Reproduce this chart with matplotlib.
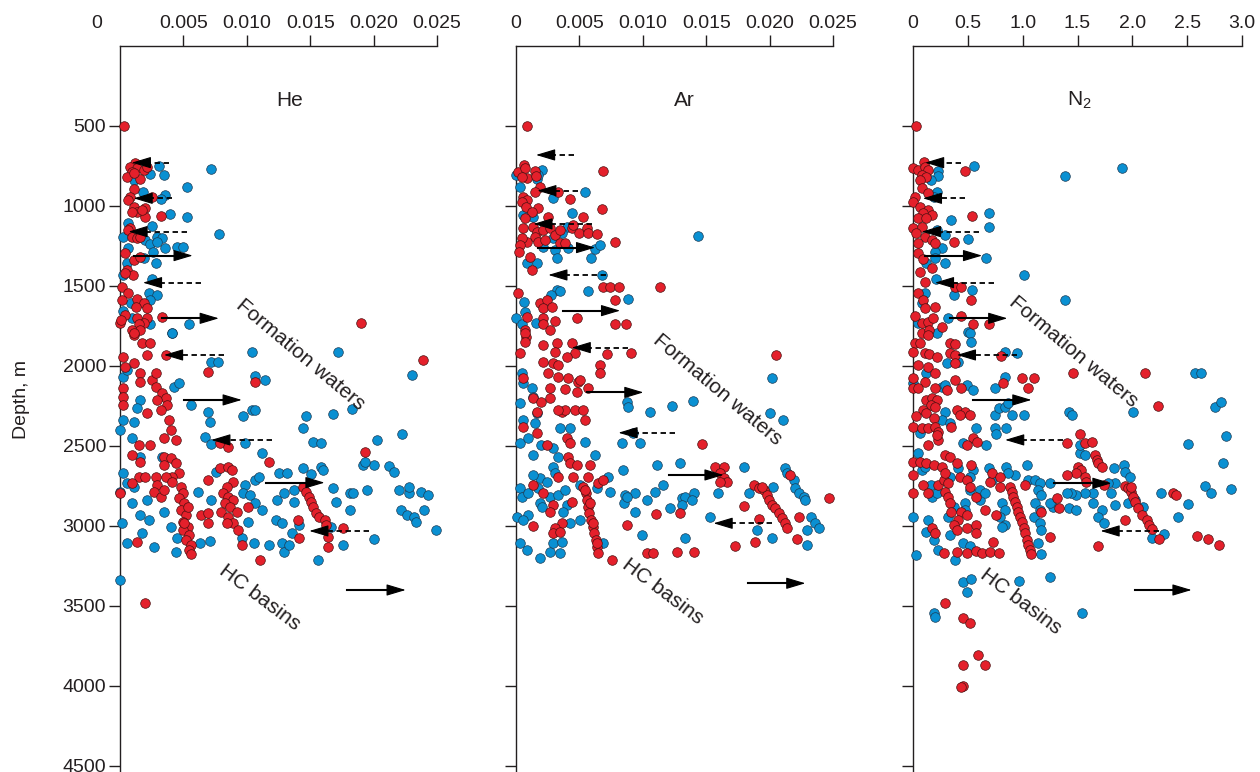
import numpy as np
import matplotlib
matplotlib.use("Agg")
import matplotlib.pyplot as plt
from matplotlib.patches import FancyArrowPatch

plt.rcParams['font.family'] = ['Liberation Sans', 'DejaVu Sans']
plt.rcParams['mathtext.default'] = 'regular'

# ---------------- DATA (x value, depth m) ----------------
# He and Ar values in units of 1e-3
he_red = [
(0.35,500),(1.2,729),(0.8,754),(1.33,765),(0.93,785),(1.87,775),(2.13,754),(0.53,821),(1.6,833),(1.07,796),
(1.07,894),(0.75,942),(2.53,942),(0.67,962),(1.07,1004),(2.0,1014),(1.33,1035),(0.93,1035),(2.0,1071),(3.2,1062),(1.73,1025),
(0.8,1140),(0.67,1150),(0.93,1192),(1.33,1202),(1.6,1192),(0.4,1296),(1.07,1337),(1.6,1317),(0.53,1400),(1.01,1431),(0.4,1421),
(0.13,1504),(0.67,1546),(0.13,1587),(1.33,1583),(1.87,1608),(1.28,1633),(2.13,1640),(0.4,1681),(0.0,1733),(1.33,1702),(2.13,1702),
(1.87,1733),(1.47,1740),(0.93,1775),(1.6,1775),(1.07,1806),(3.33,1692),(0.05,1712),(19.0,1729),
(1.07,1796),(1.73,1858),(2.4,1858),(2.13,1931),(0.27,1942),(1.07,1983),(0.4,2004),(1.6,2046),(2.53,2088),(2.8,2046),(3.6,1931),
(0.27,2140),(1.6,2098),(2.8,2129),(3.33,2171),(3.6,2202),(3.73,2244),(2.93,2213),(3.2,2275),(0.27,2192),(0.27,2244),(3.87,2337),
(4.0,2400),(3.47,2452),(4.4,2462),(2.4,2494),(1.47,2494),(0.93,2556),(1.6,2598),(6.93,2035),(10.67,2098),(23.9,1962),(7.87,2483),
(8.53,2504),(2.13,2296),
(4.8,2754),(4.93,2796),(4.67,2827),(5.07,2858),(4.8,2900),(5.2,2931),(4.93,2973),(5.33,3004),(4.93,3025),(5.47,3056),(5.2,3087),
(5.6,3119),(5.47,3150),(5.6,3175),(5.07,2983),(5.33,2879),
(3.47,2567),(4.0,2577),(4.4,2608),(4.67,2671),(4.13,2692),(3.47,2619),(3.6,2692),(2.8,2692),(2.93,2744),(2.67,2785),(1.47,2692),
(2.0,2692),(0.93,2733),(0.0,2796),(3.2,2817),(3.47,2775),(4.13,2723),(6.93,2712),(6.4,2931),(6.93,2921),(6.93,2983),(1.33,3098),
(2.0,3483),
(7.87,2639),(8.53,2629),(8.8,2650),(8.93,2723),(8.4,2754),(8.13,2796),(8.53,2817),(8.93,2838),(8.27,2858),(8.67,2879),(7.99,2910),
(9.2,2910),(8.53,2942),(8.93,2983),(8.4,2983),(9.33,3025),(9.6,3119),(10.13,2879),(11.07,3212),(11.73,2598),
(14.4,2754),(14.67,2785),(14.93,2817),(15.07,2848),(15.2,2879),(15.47,2921),(15.73,2942),(16.13,2962),(16.27,2994),(16.4,3067),
(16.4,3129),(14.0,2962),(14.08,3077),(17.6,3014),(19.33,2535),
]
he_blue = [
(3.07,748),(2.4,800),(3.47,806),(1.07,837),(7.2,769),(5.28,879),(1.81,910),(3.52,931),(3.25,958),(3.95,1050),(5.28,1071),(1.2,1025),
(0.67,1104),(2.53,1125),(0.27,1192),(2.0,1212),(2.4,1237),(2.93,1192),(3.33,1202),(2.93,1223),(3.52,1265),(4.53,1258),(4.93,1258),
(2.61,1285),(1.87,1327),(2.8,1354),(0.67,1265),(0.53,1358),(0.27,1431),(7.79,1177),(2.53,1458),(2.27,1542),(2.88,1556),(2.4,1587),
(0.85,1604),(0.27,1654),(0.93,1702),(2.4,1737),(5.47,1737),(4.08,1792),
(4.13,1796),(0.27,2067),(0.53,2025),(7.2,1973),(7.73,1973),(10.4,1910),(17.2,1910),(10.67,2062),(11.47,2088),(4.27,2129),(4.67,2108),
(1.6,2212),(1.33,2265),(5.6,2244),(6.93,2285),(7.07,2348),(10.4,2275),(10.67,2275),(9.73,2312),(14.67,2312),(16.8,2300),(18.27,2271),
(14.4,2390),(23.0,2056),(0.27,2337),(1.07,2348),(0.0,2400),(0.93,2452),(6.67,2446),(7.2,2490),(9.87,2483),(15.2,2473),(15.87,2479),
(20.27,2462),(22.27,2427),(1.6,2567),(3.33,2571),(11.2,2542),
(0.0,2785),(0.27,2671),(0.53,2733),(1.07,2754),(0.93,2858),(1.6,2931),(2.27,2962),(1.73,3046),(0.53,3108),(2.67,3129),(0.13,2983),
(0.0,3337),(2.13,2838),(3.47,2910),(4.0,3004),(4.4,3160),(4.53,3077),(6.27,3108),(7.07,3092),(6.13,2785),(7.2,2838),(7.6,2660),
(9.87,2744),(10.67,2712),(10.93,2692),(9.73,2796),(10.27,2806),(10.67,2858),(11.2,2900),(10.13,2973),(9.6,3077),(10.53,3108),
(11.73,3119),(12.4,2838),(12.93,2796),(12.27,2962),(12.8,2983),(13.6,3046),(12.8,3108),(12.93,3160),(13.33,3119),(12.53,2671),
(13.2,2671),(13.73,2775),(13.73,2848),(14.4,2639),(15.07,2675),(15.87,2629),(16.0,2650),(16.8,2765),(17.07,2848),(16.67,3004),
(17.6,3119),(15.6,3212),(18.13,2796),(18.35,2792),(18.13,2900),(19.47,2775),(19.2,2619),(20.0,2619),(19.33,2598),(21.2,2625),
(21.6,2660),(22.0,2775),(22.8,2796),(22.8,2758),(23.73,2785),(24.27,2806),(22.13,2900),(22.67,2931),(23.2,2942),(23.33,2973),
(24.0,2900),(24.9,3025),(20.0,3083),(14.13,2994),
]
ar_red = [
(0.84,498),(0.63,744),(0.18,785),(0.71,765),(0.84,827),(1.5,779),(1.58,812),(0.45,817),(6.84,781),(1.89,883),(1.5,910),(0.58,942),
(0.84,962),(0.45,973),(3.34,910),(4.26,958),(0.79,1004),(1.76,1014),(1.24,1035),(6.76,1021),(0.71,1077),(0.58,1140),(1.37,1129),
(1.63,1160),(2.16,1150),(2.55,1067),(2.68,1140),(3.08,1181),(3.47,1150),(4.39,1140),(4.53,1119),(5.0,1171),(5.26,1067),(5.58,1140),
(5.71,1171),(6.42,1175),(1.5,1192),(0.84,1223),(0.45,1202),(0.32,1244),(1.76,1223),(2.29,1212),(3.47,1233),(3.87,1233),(7.82,1223),
(0.26,1285),(1.1,1317),(1.24,1400),(0.18,1546),(6.89,1504),(7.42,1504),(8.16,1504),(11.32,1504),(1.89,1608),(2.42,1587),(2.16,1640),
(2.82,1633),(0.84,1692),(2.11,1702),(3.08,1717),(7.82,1587),(2.16,1737),(2.68,1775),(4.79,1702),(7.82,1737),(8.68,1737),(0.71,1775),
(0.79,1817),
(0.71,1796),(0.71,1848),(0.32,1921),(2.16,1869),(3.21,1858),(4.39,1858),(3.08,1910),(4.66,1921),(4.0,1942),(2.16,1973),(2.95,1983),
(3.34,1994),(2.55,2046),(3.34,2067),(4.13,2077),(4.92,2098),(5.05,2088),(0.58,2077),(2.68,2140),(3.87,2146),(4.79,2160),(5.71,2140),
(6.63,1994),(6.63,2046),(7.21,1925),(9.05,1917),(1.37,2202),(2.0,2223),(2.68,2202),(1.63,2285),(3.61,2285),(3.87,2275),(3.34,2275),
(4.66,2275),(5.32,2275),(5.45,2337),(0.58,2379),(1.63,2421),(4.0,2452),(4.26,2483),(2.42,2494),(4.13,2567),(4.26,2608),(4.79,2619),
(5.84,2619),(4.53,2692),(3.34,2692),(5.71,2692),(1.37,2744),(2.16,2796),(2.95,2869),(2.68,2910),(3.61,2983),(3.08,3014),(2.95,3046),
(3.47,3035),(1.37,3000),(4.39,2848),(6.5,2733),(6.89,2712),(14.63,2487),(8.74,2994),(7.55,3212),(10.32,3171),(10.84,3171),
(12.68,3160),(14.05,3160),(11.05,2927),(12.95,2917),(18.0,2875),(20.53,1931),(19.13,2958),(17.29,3125),(18.87,3098),(22.16,3083),
(22.3,2942),(21.63,2681),(24.66,2823),
(5.32,2754),(5.53,2796),(5.63,2838),(5.71,2879),(5.79,2921),(5.89,2962),(6.05,3004),(6.16,3046),(6.32,3087),(6.42,3129),(6.5,3171),
(5.45,2775),(5.84,2858),(6.11,2983),(6.37,3108),
(15.71,2629),(16.37,2633),(16.11,2671),(16.37,2702),(16.63,2723),(16.11,2723),
(18.74,2744),(19.13,2765),(19.53,2775),(19.79,2806),(19.92,2838),(20.18,2869),(20.45,2890),(20.71,2921),(20.97,2952),(21.24,2983),
(21.37,3014),(19.4,2754),
]
ar_blue = [
(0.0,806),(1.63,833),(2.03,775),(1.76,806),(0.32,879),(5.45,910),(2.95,952),(1.37,1067),(0.58,1056),(4.39,1046),(4.0,1129),(3.61,1171),
(2.95,1202),(2.16,1254),(3.08,1275),(4.13,1265),(3.21,1327),(5.89,1327),(6.24,1269),(6.63,1244),(1.63,1354),(0.84,1358),(6.76,1431),
(14.34,1187),(3.21,1525),(3.47,1529),(2.74,1556),(5.71,1529),(8.82,1583),(0.63,1598),(0.71,1660),(0.0,1702),(0.45,1737),(1.58,1733),
(0.45,2046),(0.58,2108),(1.24,2140),(1.37,2192),(0.32,2233),(0.58,2337),(1.63,2296),(1.5,2354),(0.32,2483),(0.97,2452),(1.37,2556),
(2.0,2494),(2.95,2515),(3.34,2567),(3.47,2389),(4.26,2389),(5.45,2473),(6.24,2556),(2.95,2629),(3.08,2671),(1.89,2702),(1.37,2681),
(2.42,2723),(0.32,2765),(0.45,2817),(0.97,2796),(1.76,2765),(1.89,2858),(2.68,2817),(3.34,2806),(3.87,2775),(4.0,2869),(2.03,2879),
(0.97,2931),(0.05,2942),(0.58,2962),(3.74,2910),(4.26,2983),(5.05,2962),(0.32,3108),(0.84,3150),(1.89,3202),(2.68,3160),(3.47,3171),
(2.95,3108),(3.61,3098),(6.89,3108),(5.05,2744),(6.37,2765),(7.29,2692),(7.42,2785),(8.47,2650),(8.6,2806),(9.39,2796),(9.39,2910),
(9.92,3056),(10.32,2837),(10.97,2785),(11.11,2619),(11.63,2744),(12.16,2890),(13.08,2827),(13.34,2817),(13.08,2869),(14.0,2796),
(13.87,2837),(12.95,2608),(13.34,3077),(15.32,2942),(15.97,2796),(17.95,2629),(18.34,2792),(20.26,2754),(21.24,2640),(21.37,2671),
(21.9,2712),(22.03,2765),(22.3,2796),(22.7,2817),(22.8,2838),(23.3,2942),(23.6,2983),(23.87,3014),(22.95,3025),(22.95,3119),
(19.0,3025),(20.18,3077),(20.0,2292),(21.05,2337),(20.18,2073),(13.95,2219),(12.34,2250),(10.53,2285),(8.74,2223),(8.87,2254),
(9.26,2421),(8.34,2483),(9.79,2483),(8.53,2858),(8.74,2817),
]
n2_red = [
(0.03,498),(0.1,723),(0.0,764),(0.05,775),(0.11,754),(0.14,775),(0.08,806),(0.12,817),(0.06,837),(0.47,779),(0.08,890),(0.14,921),
(0.02,942),(0.0,973),(0.06,1004),(0.14,1025),(0.09,1046),(0.17,1056),(0.05,1077),(0.12,1077),(0.0,1140),(0.08,1129),(0.03,1171),
(0.11,1192),(0.05,1233),(0.17,1212),(0.2,1229),(0.37,1223),(0.54,1062),(0.05,1296),(0.09,1333),(0.17,1390),(0.06,1410),(0.11,1473),
(0.05,1546),(0.09,1587),(0.11,1640),(0.2,1629),(0.38,1504),(0.44,1504),(0.53,1587),(0.02,1687),(0.08,1733),(0.14,1723),(0.18,1702),
(0.26,1754),(0.08,1796),(0.44,1687),(0.55,1737),(0.69,1737),(0.15,1775),
(0.14,1806),(0.02,1858),(0.06,1854),(0.34,1858),(0.38,1862),(0.0,1910),(0.11,1921),(0.15,1925),(0.22,1942),(0.34,1921),(0.38,1931),
(0.05,1994),(0.14,2004),(0.2,2046),(0.38,1983),(0.38,2088),(0.0,2077),(0.11,2098),(0.0,2140),(0.05,2140),(0.2,2140),(0.31,2150),
(0.44,2140),(0.12,2212),(0.17,2202),(0.22,2212),(0.16,2244),(0.2,2254),(0.09,2275),(0.12,2296),(0.19,2327),(0.03,2312),(0.0,2379),
(0.08,2389),(0.14,2389),(0.2,2379),(0.23,2410),(0.23,2462),(0.22,2431),(0.35,2379),(0.4,2275),(0.47,2285),(0.52,2306),(0.43,2306),
(0.55,2452),(0.58,2473),(0.49,2494),(0.14,2494),(0.29,2556),(0.0,2598),(0.06,2598),(0.12,2608),(0.19,2619),(0.26,2629),(0.34,2567),
(0.4,2608),(0.53,2619),(0.0,2681),(0.0,2792),(0.09,2744),(0.14,2796),(0.23,2744),(0.28,2712),(0.32,2733),(0.29,2785),(0.32,2817),
(0.34,2858),(0.29,2671),(0.43,2692),(0.49,2712),(0.52,2754),(0.57,2817),(0.35,2910),(0.44,2910),(0.49,2931),(0.41,2962),(0.37,2994),
(0.49,3014),(0.4,3025),(0.57,2994),(0.57,3046),(0.66,2900),(0.7,2723),(0.72,2671),(0.79,2692),(0.76,2931),(0.17,3014),(0.2,3046),
(0.28,3167),(0.4,3160),(0.49,3167),(0.57,3154),(0.63,3167),(0.7,3160),(0.73,3098),(0.78,3167),(0.29,3483),(0.46,3577),(0.52,3608),
(0.59,3806),(0.46,3869),(0.66,3869),(0.46,4000),(0.44,4004),(0.8,1937),(0.82,2108),(0.99,2073),(1.1,2073),(1.05,2140),(1.46,2046),
(2.12,2042),(2.23,2250),(1.4,2483),(1.25,3071),(1.69,3125),(1.93,2962),(2.24,3081),(2.59,3060),(2.69,3081),(2.79,3119),(2.37,2792),
(2.4,2806),(1.17,2910),(1.33,2890),(1.31,2827),(1.02,2744),(0.79,2754),
(0.88,2754),(0.9,2785),(0.91,2817),(0.93,2848),(0.95,2879),(0.96,2910),(0.98,2942),(0.99,2973),(1.01,3014),(1.02,3046),(1.04,3087),
(1.05,3119),(1.07,3150),(1.08,3175),
(1.52,2425),(1.57,2483),(1.63,2473),(1.66,2556),(1.68,2587),(1.69,2608),(1.72,2629),(1.5,2629),(1.53,2650),(1.57,2692),(1.58,2723),
(1.49,2671),(1.4,2681),(1.74,2744),
(1.93,2750),(1.96,2765),(1.99,2785),(2.01,2817),(2.02,2848),(2.05,2890),(2.09,2931),(2.13,2962),(2.15,2994),(2.18,3021),(1.99,2754),
]
n2_blue = [
(0.56,748),(0.23,779),(0.23,812),(0.16,837),(1.39,812),(1.91,760),(0.22,910),(0.19,942),(0.35,1087),(0.69,1046),(0.69,1129),
(0.29,1181),(0.22,1150),(0.26,1265),(0.5,1208),(0.2,1285),(0.2,1327),(0.29,1358),(0.12,1354),(0.67,1327),(1.01,1431),(0.21,1458),
(0.11,1542),(0.37,1556),(0.54,1525),(1.39,1587),(0.08,1604),(0.32,1702),(0.05,1729),(0.22,1796),(0.5,1785),
(0.52,1796),(0.53,1848),(0.41,1973),(0.31,1983),(0.12,2046),(0.0,2108),(0.26,2129),(0.29,2119),(0.49,2119),(0.55,2150),(0.84,1910),
(0.95,1917),(0.84,2067),(0.75,2140),(0.29,2285),(0.26,2337),(0.34,2358),(0.57,2389),(0.06,2421),(0.75,2306),(0.78,2265),(0.84,2254),
(0.87,2233),(0.9,2306),(1.01,2306),(0.75,2389),(0.76,2425),(0.85,2389),(0.46,2483),(0.67,2494),(1.42,2285),(1.45,2306),(2.01,2285),
(2.57,2046),(2.63,2046),(2.75,2254),(2.81,2223),(2.85,2437),(2.51,2487),(2.83,2604),(2.66,2750),(2.72,2792),(2.9,2771),(2.51,2862),
(2.42,2942),(2.26,2796),(2.18,3077),(2.29,3052),(1.52,2546),(1.57,2556),(1.52,2494),(1.83,2640),(1.92,2619),(1.93,2660),(1.98,2692),
(1.84,2733),(1.81,2796),(1.84,2869),(1.78,2733),(1.96,2858),(2.02,2837),(2.1,2879),(1.72,2900),(1.69,2942),(1.74,2983),(1.64,2858),
(1.64,2796),(1.57,2796),(1.49,2806),(1.44,2796),(1.4,2792),(1.42,2890),(1.49,2900),(1.28,2879),(1.25,2858),(1.25,2733),(1.04,2619),
(1.05,2712),(1.11,2712),(1.16,2733),(1.14,2775),(1.17,2806),(1.11,2858),(1.16,2900),(1.1,2942),(1.16,2983),(1.17,3025),(1.14,3108),
(1.17,3175),(1.25,3321),(0.97,3342),(1.54,3542),(0.85,2629),(0.93,2681),(0.87,2671),(0.69,2640),(0.72,2712),(0.81,2858),(0.84,2900),
(0.79,2942),(0.84,2994),(0.81,3004),(0.61,2775),(0.61,2837),(0.66,2796),(0.55,2650),(0.52,2692),(0.52,2775),(0.47,2858),(0.47,2900),
(0.37,2879),(0.32,2942),(0.14,2962),(0.12,3035),(0.19,3087),(0.23,3150),(0.34,3056),(0.38,3212),(0.46,3108),(0.52,3125),(0.03,3181),
(0.0,2942),(0.08,2650),(0.11,2629),(0.05,2546),(0.17,2817),(0.22,2796),(0.16,2744),(0.46,3348),(0.53,3333),(0.49,3410),(0.19,3546),
(0.2,3571),(0.41,2640),(0.34,2692),
]

# arrows: (depth, x_start, x_end, dashed)
he_arrows = [(729,3.87,0.93,True),(952,4.13,1.07,True),(1160,5.28,0.67,True),(1310,1.07,5.73,False),(1479,6.4,1.81,True),
             (1702,3.33,7.79,False),(1931,8.21,3.47,True),(2212,5.01,9.6,False),(2462,12.0,7.2,True),(2729,11.52,16.13,False),
             (3031,19.6,14.93,True),(3400,17.87,22.53,False)]
ar_arrows = [(681,4.58,1.58,True),(904,4.92,1.68,True),(1112,5.97,1.37,True),(1260,1.76,6.24,False),(1431,7.1,2.55,True),
             (1654,3.74,8.21,False),(1885,8.87,4.39,True),(2165,5.58,10.05,False),(2417,12.55,8.08,True),(2681,12.03,16.37,False),
             (2983,20.18,15.58,True),(3358,18.26,22.82,False)]
n2_arrows = [(729,0.44,0.11,True),(952,0.47,0.09,True),(1160,0.6,0.08,True),(1310,0.11,0.63,False),(1479,0.74,0.2,True),
             (1702,0.34,0.86,False),(1931,0.95,0.4,True),(2212,0.55,1.08,False),(2462,1.37,0.84,True),(2733,1.29,1.81,False),
             (3031,2.24,1.71,True),(3400,2.02,2.54,False)]

he_ticks = [0.005, 0.010, 0.015, 0.020, 0.025]
ar_ticks = [0.005, 0.010, 0.015, 0.020, 0.025]
n2_ticks = [0.5, 1.0, 1.5, 2.0, 2.5, 3.0]
he_ticklabels = ['0.005', '0.010', '0.015', '0.020', '0.025']
n2_ticklabels = ['0.5', '1.0', '1.5', '2.0', '2.5', '3.0']
depth_ticks = [500, 1000, 1500, 2000, 2500, 3000, 3500, 4000, 4500]

RED = '#e4202b'
BLUE = '#0a90d2'
INK = '#231f20'

W, H = 1260, 772
fig = plt.figure(figsize=(W/100, H/100), dpi=100)

def px_ax(left, right):
    top, bottom = 46, 771.6
    return fig.add_axes([left/W, 1-bottom/H, (right-left)/W, (bottom-top)/H])

panels = [
    dict(name='He', left=120, right=437, xmax=0.025, scale=1e-3, red=he_red, blue=he_blue, arrows=he_arrows,
         ticks=he_ticks, labels=he_ticklabels, zero_dx=-16.5, lab=(0.0134, 340), fw=(0.0142, 1931), hc=(0.0110, 3444)),
    dict(name='Ar', left=516, right=833, xmax=0.025, scale=1e-3, red=ar_red, blue=ar_blue, arrows=ar_arrows,
         ticks=ar_ticks, labels=he_ticklabels, zero_dx=0, lab=(0.0133, 340), fw=(0.0159, 2150), hc=(0.0116, 3412)),
    dict(name='N$_2$', left=913, right=1242, xmax=3.0, scale=1.0, red=n2_red, blue=n2_blue, arrows=n2_arrows,
         ticks=n2_ticks, labels=n2_ticklabels, zero_dx=0, lab=(1.52, 340), fw=(1.46, 1912), hc=(0.98, 3470)),
]

for i, p in enumerate(panels):
    ax = px_ax(p['left'], p['right'])
    ax.set_xlim(0, p['xmax'])
    ax.set_ylim(4535, 0)
    for s in ['right', 'bottom']:
        ax.spines[s].set_visible(False)
    for s in ['left', 'top']:
        ax.spines[s].set_color(INK)
        ax.spines[s].set_linewidth(1.0)
    ax.xaxis.tick_top()
    ax.set_xticks(p['ticks'])
    ax.set_xticklabels(p['labels'])
    ax.set_yticks(depth_ticks)
    if i == 0:
        ax.set_yticklabels([str(t) for t in depth_ticks])
    else:
        ax.set_yticklabels([])
    ax.tick_params(axis='both', direction='out', length=8, width=1.0, color=INK,
                   labelsize=14, labelcolor=INK, pad=2)
    ax.patch.set_alpha(0)

    rx = np.array([v[0] for v in p['red']]) * p['scale']
    rd = np.array([v[1] for v in p['red']])
    bx = np.array([v[0] for v in p['blue']]) * p['scale']
    bd = np.array([v[1] for v in p['blue']])
    ax.scatter(bx, bd, s=48, c=BLUE, edgecolors='#1b3b55', linewidths=0.5, zorder=3, clip_on=False)
    ax.scatter(rx, rd, s=48, c=RED, edgecolors='#4a1010', linewidths=0.5, zorder=4, clip_on=False)

    hl = 0.055 * p['xmax']
    for d, x0, x1, dashed in p['arrows']:
        x0 *= p['scale']; x1 *= p['scale']
        sgn = 1 if x1 > x0 else -1
        if dashed:
            ax.plot([x0, x1 - sgn*hl*0.6], [d, d], color='k', lw=1.3, ls=(0, (3, 2)), zorder=6)
        else:
            ax.plot([x0, x1 - sgn*hl*0.6], [d, d], color='k', lw=1.5, zorder=6)
        arr = FancyArrowPatch((x1 - sgn*hl, d), (x1, d), arrowstyle='-|>,head_length=12,head_width=3.6',
                              mutation_scale=1, color='k', lw=0.8, shrinkA=0, shrinkB=0, zorder=7)
        ax.add_patch(arr)

    ax.text(p['lab'][0], p['lab'][1], p['name'], fontsize=15, color=INK, ha='center', va='center')
    ax.text(p['fw'][0], p['fw'][1], 'Formation waters', fontsize=15, color=INK,
            rotation=-40, rotation_mode='anchor', ha='center', va='center', zorder=8)
    ax.text(p['hc'][0], p['hc'][1], 'HC basins', fontsize=15, color=INK,
            rotation=-37, rotation_mode='anchor', ha='center', va='center', zorder=8)
    ax.annotate('0', xy=(0, 1), xycoords='axes fraction', xytext=(p['zero_dx'], 10),
                textcoords='offset points', ha='center', va='bottom', fontsize=14, color=INK)

fig.text(22/W, 1-400/H, 'Depth, m', rotation=90, ha='center', va='center', fontsize=14, color=INK)

fig.savefig('out.png', dpi=100)
